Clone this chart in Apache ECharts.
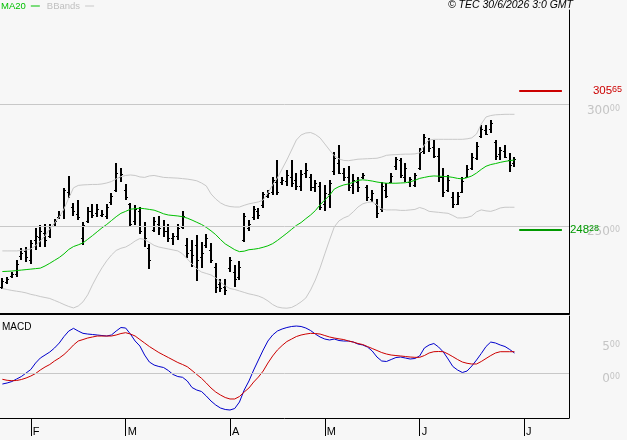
<!DOCTYPE html>
<html>
<head>
<meta charset="utf-8">
<script src="https://cdn.jsdelivr.net/npm/echarts@6/dist/echarts.min.js"></script>
<style>
html, body { margin: 0; padding: 0; background: #f7f7f7; }
#chart { width: 627px; height: 440px; }
</style>
</head>
<body>
<div id="chart"></div>
<script>
// trading days (d/m), the last ones are empty room on the right of the chart
var dates = [
  '23/1','26/1','27/1','28/1','29/1','30/1',
  '2/2','3/2','4/2','5/2','6/2','9/2','10/2','11/2','12/2','13/2','16/2','17/2','18/2','19/2','20/2','23/2','24/2','25/2','26/2','27/2',
  '2/3','3/3','4/3','5/3','6/3','9/3','10/3','11/3','12/3','13/3','16/3','17/3','18/3','19/3','20/3','23/3','24/3','25/3','26/3','27/3','30/3','31/3',
  '1/4','2/4','7/4','8/4','9/4','10/4','13/4','14/4','15/4','16/4','17/4','20/4','21/4','22/4','23/4','24/4','27/4','28/4','29/4','30/4',
  '4/5','5/5','6/5','7/5','8/5','11/5','12/5','13/5','14/5','15/5','18/5','19/5','20/5','21/5','22/5','25/5','26/5','27/5','28/5','29/5',
  '1/6','2/6','3/6','4/6','5/6','8/6','9/6','10/6','11/6','12/6','15/6','16/6','17/6','18/6','19/6','22/6','23/6','24/6','25/6','26/6','29/6','30/6',
  '1/7','2/7','3/7','6/7','7/7','8/7','9/7','10/7','13/7','14/7'
];
var monthLetters = ['J','F','M','A','M','J','J','A','S','O','N','D'];

var opens = [
  225.0,227.0,229.5,230.0,237.5,239.5,236.0,244.0,245.5,247.0,
  246.0,251.0,253.5,256.0,264.0,258.0,255.0,245.0,252.0,256.0,
  255.5,254.5,254.0,260.0,265.0,270.0,265.0,259.0,252.0,256.0,
  250.0,241.0,248.5,251.0,250.0,248.0,245.0,246.0,249.5,242.0,
  240.0,242.0,237.0,242.0,240.0,233.0,226.0,225.0,232.5,231.0,
  229.0,244.0,249.0,253.5,256.0,258.5,262.5,264.0,268.0,268.0,
  268.5,270.0,269.0,266.5,272.0,270.0,266.0,266.5,259.0,263.0,
  272.5,276.0,272.0,270.0,267.0,268.0,270.0,266.0,261.0,259.0,
  257.0,265.0,268.0,274.5,277.0,270.0,268.0,267.0,274.0,281.0,
  285.0,282.5,279.0,270.0,265.0,262.0,259.0,264.0,270.0,274.0,
  278.0,287.0,289.5,290.0,284.5,279.5,281.0,277.0,276.0
];
var closes = [
  227.5,228.0,230.0,234.5,239.0,237.0,243.0,246.0,248.0,244.0,
  250.0,252.0,254.5,265.0,263.0,256.0,253.5,250.5,256.0,254.5,
  257.0,255.0,258.0,262.5,272.0,271.5,262.0,251.0,257.0,248.0,
  245.0,236.0,252.0,249.0,248.0,245.0,246.0,249.0,254.0,239.0,
  238.0,236.0,239.0,245.0,236.0,225.0,224.5,223.5,236.0,228.0,
  233.0,254.0,251.0,257.0,254.5,263.0,263.5,269.0,264.0,269.0,
  271.0,267.5,266.5,271.5,273.0,266.0,267.5,258.0,263.5,267.5,
  278.0,272.0,270.0,266.0,269.0,266.0,271.0,262.0,263.5,255.5,
  266.5,262.5,270.5,277.5,271.0,274.0,269.5,271.0,280.5,286.5,
  282.0,279.0,270.0,264.0,269.0,259.0,262.5,268.5,273.5,278.5,
  283.0,290.0,288.0,292.5,279.0,281.5,278.5,275.0,277.5
];
var lows = [
  224.0,226.1,228.6,229.0,236.0,235.2,234.3,240.1,241.3,241.3,
  245.1,250.0,252.9,252.9,261.5,254.1,252.5,242.2,251.2,253.3,
  253.7,253.7,252.9,258.7,264.0,268.1,260.7,249.7,250.4,246.6,
  241.5,232.3,247.4,246.3,245.6,243.5,242.2,244.2,248.8,236.9,
  233.2,227.3,232.8,240.8,234.6,222.3,222.9,221.6,231.2,225.0,
  227.7,243.5,247.9,252.5,252.9,257.5,261.4,262.8,262.8,266.9,
  266.6,266.2,264.8,264.4,269.9,264.4,264.1,256.6,256.2,257.5,
  271.0,271.3,268.5,264.4,263.1,263.9,269.4,260.3,259.8,253.2,
  255.9,261.4,267.6,273.1,269.7,268.3,266.2,266.0,273.1,279.6,
  280.6,277.9,268.3,262.1,264.1,257.3,258.7,263.5,269.7,273.1,
  277.2,286.1,287.5,288.2,277.2,277.2,277.9,272.4,274.4
];
var highs = [
  228.6,229.0,231.0,236.0,240.9,241.3,244.2,249.2,250.4,250.8,
  250.8,252.9,256.2,265.7,270.6,259.5,260.7,251.6,257.8,259.1,
  259.1,256.6,259.1,263.6,276.0,273.9,267.3,259.4,258.7,258.0,
  251.5,242.5,253.8,254.2,252.5,250.7,247.0,250.7,256.2,244.9,
  244.2,246.3,243.5,246.6,242.9,234.6,228.2,228.2,237.3,233.9,
  235.6,255.2,252.5,258.2,257.3,264.1,264.8,270.3,277.2,270.3,
  273.1,277.2,271.7,273.1,275.8,271.3,269.0,268.3,266.9,269.0,
  280.6,283.4,273.8,274.9,271.3,270.3,271.7,266.9,264.8,261.1,
  268.0,267.6,271.7,278.6,278.2,275.8,270.3,272.0,282.0,287.8,
  286.4,285.4,282.0,273.8,271.0,264.1,264.1,270.3,275.1,280.0,
  284.7,291.6,291.6,293.7,285.4,282.7,283.4,280.0,278.6
];

var ma20 = [
  231.2,231.3,231.4,231.6,231.8,232.0,232.2,232.4,232.6,233.5,
  234.6,235.8,237.0,238.5,240.3,241.5,242.2,243.0,244.5,246.0,
  247.6,249.2,250.6,252.2,253.8,255.2,256.0,256.9,257.1,257.3,
  257.1,256.8,256.5,255.8,255.0,254.5,254.3,254.1,253.8,253.2,
  252.4,251.5,250.6,249.4,248.0,246.4,244.4,242.6,241.4,240.2,
  239.4,239.6,240.2,240.4,240.7,241.2,241.8,242.7,244.0,245.5,
  247.0,248.6,250.2,251.4,253.0,254.5,256.3,258.7,260.7,262.6,
  265.2,266.2,266.9,267.3,268.0,268.8,269.0,268.8,268.5,268.1,
  267.8,267.6,267.6,267.6,267.7,267.8,268.2,268.8,269.6,270.0,
  270.4,270.6,270.5,270.4,270.3,270.0,269.6,269.4,269.9,270.6,
  271.8,273.3,274.6,275.3,275.7,276.2,276.6,276.9,277.2
];
var bbUpper = [
  239.7,239.7,239.7,239.7,239.9,240.1,240.5,241.8,243.8,245.9,
  248.8,251.2,253.7,257.0,261.5,265.7,266.7,266.9,267.0,267.1,
  267.1,267.3,267.7,268.3,269.4,270.3,270.8,271.0,270.8,270.2,
  270.0,270.6,270.8,270.4,270.0,269.9,269.8,269.7,269.5,269.3,
  269.0,268.6,267.7,266.5,263.2,261.1,259.5,258.5,258.0,257.8,
  257.8,258.5,259.1,259.5,259.9,260.7,263.6,266.9,269.8,273.5,
  277.2,281.3,285.4,287.5,288.3,288.5,287.7,286.3,283.8,281.3,
  278.9,277.6,277.0,276.9,277.2,277.5,277.6,277.7,277.8,277.9,
  278.4,279.1,279.3,279.4,279.5,279.6,279.6,279.7,280.1,283.4,
  285.4,285.7,285.7,285.7,285.7,285.7,285.7,285.7,285.9,286.3,
  287.9,292.0,294.9,295.5,295.8,295.9,296.0,296.0,296.0
];
var bbLower = [
  224.2,223.8,223.4,223.1,222.8,222.4,221.8,221.4,220.9,220.5,
  220.1,219.3,218.5,217.6,216.8,216.2,217.0,218.7,221.6,225.7,
  229.4,232.7,235.6,238.0,239.9,240.8,241.3,242.4,243.8,244.8,
  244.4,243.2,242.0,241.3,240.9,240.5,240.1,239.7,238.5,236.4,
  234.3,232.3,231.0,230.4,229.8,228.6,226.9,225.3,224.2,223.8,
  223.2,222.6,222.0,221.6,221.1,220.3,219.1,217.6,216.6,216.2,
  216.1,216.4,217.4,218.7,220.3,223.6,227.7,232.7,238.5,244.2,
  249.6,252.1,253.3,254.1,255.8,257.8,259.1,259.7,259.9,258.7,
  257.0,256.6,256.6,256.6,256.4,256.4,256.6,256.8,257.6,257.0,
  256.0,255.8,255.6,255.4,255.2,254.3,253.3,253.3,253.5,254.1,
  255.8,256.6,256.2,256.0,256.6,257.4,257.7,257.7,257.7
];

var macdLine = [
  -1.72,-1.56,-1.33,-0.94,-0.55,0.00,0.55,1.56,2.34,2.81,
  3.28,3.91,4.69,5.70,6.56,6.98,6.56,6.20,6.09,6.02,
  5.94,5.86,5.78,5.94,6.56,7.11,7.03,6.09,5.00,4.22,
  2.81,1.72,1.25,1.02,0.86,0.39,-0.23,-0.55,-0.67,-1.25,
  -2.27,-2.66,-2.89,-3.59,-4.38,-5.00,-5.47,-5.70,-5.78,-5.55,
  -4.53,-2.66,-1.25,0.47,2.03,3.59,5.00,5.94,6.56,6.88,
  7.11,7.27,7.34,7.27,7.03,6.64,6.09,5.63,5.31,5.16,
  5.31,5.08,5.00,5.00,4.84,4.53,4.38,4.06,3.44,2.50,
  1.88,1.80,2.11,2.42,2.50,2.34,2.19,2.27,2.66,3.91,
  4.38,4.61,4.06,3.28,2.19,1.02,0.47,0.08,0.31,1.09,
  2.03,3.05,4.14,4.84,4.69,4.38,4.14,3.67,3.13
];
var signalLine = [
  -0.98,-1.14,-1.20,-1.17,-1.02,-0.78,-0.47,-0.08,0.47,0.94,
  1.33,1.88,2.34,2.89,3.59,4.38,5.00,5.23,5.47,5.63,
  5.78,5.78,5.78,5.78,5.94,6.17,6.30,6.09,5.78,5.23,
  4.69,4.14,3.67,3.20,2.81,2.42,2.03,1.64,1.33,0.98,
  0.39,-0.23,-0.83,-1.56,-2.34,-2.97,-3.44,-3.83,-4.06,-4.06,
  -3.67,-2.97,-2.34,-1.41,-0.63,0.31,1.56,2.66,3.59,4.30,
  4.92,5.31,5.70,5.94,6.09,6.20,6.17,6.09,5.86,5.63,
  5.47,5.34,5.23,5.00,4.84,4.61,4.45,4.14,3.83,3.52,
  3.20,2.97,2.81,2.73,2.66,2.58,2.50,2.45,2.45,2.73,
  3.13,3.33,3.36,3.33,2.97,2.55,2.11,1.72,1.52,1.41,
  1.41,1.80,2.27,2.73,3.13,3.33,3.33,3.33,3.33
];

var resistance = 305.65;
var support = 248.28;
var priceTicks = [250, 300];
var macdTicks = [0, 5];

function monthOf(d) { return +d.split('/')[1]; }
function isMonthStart(i) { return i > 0 && monthOf(dates[i]) !== monthOf(dates[i - 1]); }

function splitLabel(v) {
  var p = v.toFixed(2).split('.');
  return '{a|' + p[0] + '}{b|' + p[1] + '}';
}

var bars = highs.map(function (h, i) { return [i, opens[i], closes[i], lows[i], h]; });

function renderBar(params, api) {
  var i = api.value(0);
  var hi = api.coord([i, api.value(4)]);
  var lo = api.coord([i, api.value(3)]);
  var op = api.coord([i, api.value(1)]);
  var cl = api.coord([i, api.value(2)]);
  var x = Math.round(hi[0]);
  var yo = Math.round(op[1]) + 0.5;
  var yc = Math.round(cl[1]) + 0.5;
  return {
    type: 'group',
    children: [
      { type: 'line', shape: { x1: x, y1: Math.round(hi[1]), x2: x, y2: Math.round(lo[1]) }, style: { stroke: '#000', lineWidth: 2 } },
      { type: 'line', shape: { x1: x - 2, y1: yo, x2: x, y2: yo }, style: { stroke: '#000', lineWidth: 1 } },
      { type: 'line', shape: { x1: x, y1: yc, x2: x + 2, y2: yc }, style: { stroke: '#000', lineWidth: 1 } }
    ]
  };
}

var priceRich = {
  a: { fontFamily: 'DejaVu Sans', fontSize: 12, color: '#c4c4c4' },
  b: { fontFamily: 'DejaVu Sans', fontSize: 8, color: '#c4c4c4', verticalAlign: 'top' }
};

var chart = echarts.init(document.getElementById('chart'));
var option = {
  backgroundColor: '#f7f7f7',
  animation: false,
  title: [
    {
      text: '© TEC 30/6/2026 3:0 GMT', right: 54, top: 0, padding: 0,
      textStyle: { fontFamily: 'Liberation Sans', fontSize: 10.5, fontStyle: 'italic', fontWeight: 'normal', color: '#000' }
    },
    {
      text: 'MACD', left: 2, top: 322, padding: 0,
      textStyle: { fontFamily: 'Liberation Sans', fontSize: 10, fontWeight: 'normal', color: '#000' }
    }
  ],
  legend: {
    left: 0, top: 0, padding: [1, 0, 0, 1],
    align: 'right', icon: 'rect', itemWidth: 9, itemHeight: 1, itemGap: 7,
    selectedMode: false,
    textStyle: { fontFamily: 'Liberation Sans', fontSize: 9.5 },
    data: [
      { name: 'MA20', textStyle: { color: '#00c000' } },
      { name: 'BBands', textStyle: { color: '#c0c0c0' } }
    ]
  },
  grid: [
    { left: 0, right: 58, top: 10, height: 304 },
    { left: 0, right: 58, top: 316, height: 102 }
  ],
  xAxis: [
    {
      type: 'category', gridIndex: 0, data: dates, boundaryGap: true,
      axisLine: { onZero: false, lineStyle: { color: '#000', width: 2 } },
      axisTick: { show: false }, axisLabel: { show: false }, splitLine: { show: false }
    },
    {
      type: 'category', gridIndex: 1, data: dates, boundaryGap: true,
      axisLine: { show: true, onZero: false, lineStyle: { color: '#000', width: 1 } },
      axisTick: {
        show: true, alignWithLabel: true, length: 18, lineStyle: { color: '#000', width: 1 },
        interval: function (i) { return isMonthStart(i); }
      },
      axisLabel: {
        show: true,
        interval: function (i) { return isMonthStart(i); },
        formatter: function (v) { return monthLetters[monthOf(v) - 1]; },
        align: 'left', margin: 8, padding: [0, 0, 0, 2],
        fontFamily: 'Liberation Sans', fontSize: 11, color: '#000'
      },
      splitLine: { show: false }
    }
  ],
  yAxis: [
    {
      type: 'value', gridIndex: 0, position: 'right', min: 213.7, max: 339.0,
      axisLine: { show: true, lineStyle: { color: '#000', width: 1 } },
      axisTick: { show: false }, splitLine: { show: false },
      axisLabel: {
        customValues: priceTicks, align: 'right', margin: 51, verticalAlign: 'top',
        formatter: splitLabel, rich: priceRich
      }
    },
    {
      type: 'value', gridIndex: 1, position: 'right', min: -7.03, max: 8.91,
      axisLine: { show: true, lineStyle: { color: '#000', width: 1 } },
      axisTick: { show: false }, splitLine: { show: false },
      axisLabel: {
        customValues: macdTicks, align: 'right', margin: 51, verticalAlign: 'top',
        formatter: splitLabel, rich: priceRich
      }
    }
  ],
  series: [
    {
      name: 'BBands', type: 'line', xAxisIndex: 0, yAxisIndex: 0, data: bbUpper,
      showSymbol: false, color: '#c8c8c8', lineStyle: { width: 1, color: '#c8c8c8' },
      markLine: {
        silent: true, symbol: ['none', 'none'], label: { show: false },
        lineStyle: { color: '#c8c8c8', type: 'solid', width: 1 },
        data: priceTicks.map(function (v) { return { yAxis: v }; })
      }
    },
    {
      name: 'BBands', type: 'line', xAxisIndex: 0, yAxisIndex: 0, data: bbLower,
      showSymbol: false, color: '#c8c8c8', lineStyle: { width: 1, color: '#c8c8c8' }
    },
    {
      name: 'MA20', type: 'line', xAxisIndex: 0, yAxisIndex: 0, data: ma20,
      showSymbol: false, color: '#00c000', lineStyle: { width: 1, color: '#00c000' },
      markLine: {
        silent: true, symbol: ['none', 'none'],
        data: [
          [
            {
              coord: [dates[109], resistance], lineStyle: { color: '#cc0000', width: 2, type: 'solid' },
              label: {
                show: true, position: 'end', distance: 31, formatter: function () { return splitLabel(resistance); },
                rich: {
                  a: { fontFamily: 'Liberation Sans', fontSize: 11.5, color: '#cc0000' },
                  b: { fontFamily: 'Liberation Sans', fontSize: 9, color: '#cc0000', verticalAlign: 'top' }
                }
              }
            },
            { coord: [dates[118], resistance] }
          ],
          [
            {
              coord: [dates[109], support], lineStyle: { color: '#009900', width: 2, type: 'solid' },
              label: {
                show: true, position: 'end', distance: 8, formatter: function () { return splitLabel(support); },
                rich: {
                  a: { fontFamily: 'Liberation Sans', fontSize: 11.5, color: '#009900' },
                  b: { fontFamily: 'Liberation Sans', fontSize: 9, color: '#009900', verticalAlign: 'top' }
                }
              }
            },
            { coord: [dates[118], support] }
          ]
        ]
      }
    },
    {
      name: 'OHLC', type: 'custom', xAxisIndex: 0, yAxisIndex: 0, data: bars,
      renderItem: renderBar, encode: { x: 0, y: [1, 2, 3, 4] }
    },
    {
      name: 'MACD', type: 'line', xAxisIndex: 1, yAxisIndex: 1, data: macdLine,
      showSymbol: false, color: '#0000cc', lineStyle: { width: 1, color: '#0000cc' },
      markLine: {
        silent: true, symbol: ['none', 'none'], label: { show: false },
        lineStyle: { color: '#c8c8c8', type: 'solid', width: 1 },
        data: [{ yAxis: 0 }]
      }
    },
    {
      name: 'Signal', type: 'line', xAxisIndex: 1, yAxisIndex: 1, data: signalLine,
      showSymbol: false, color: '#cc0000', lineStyle: { width: 1, color: '#cc0000' }
    }
  ]
};
chart.setOption(option);
</script>
</body>
</html>
